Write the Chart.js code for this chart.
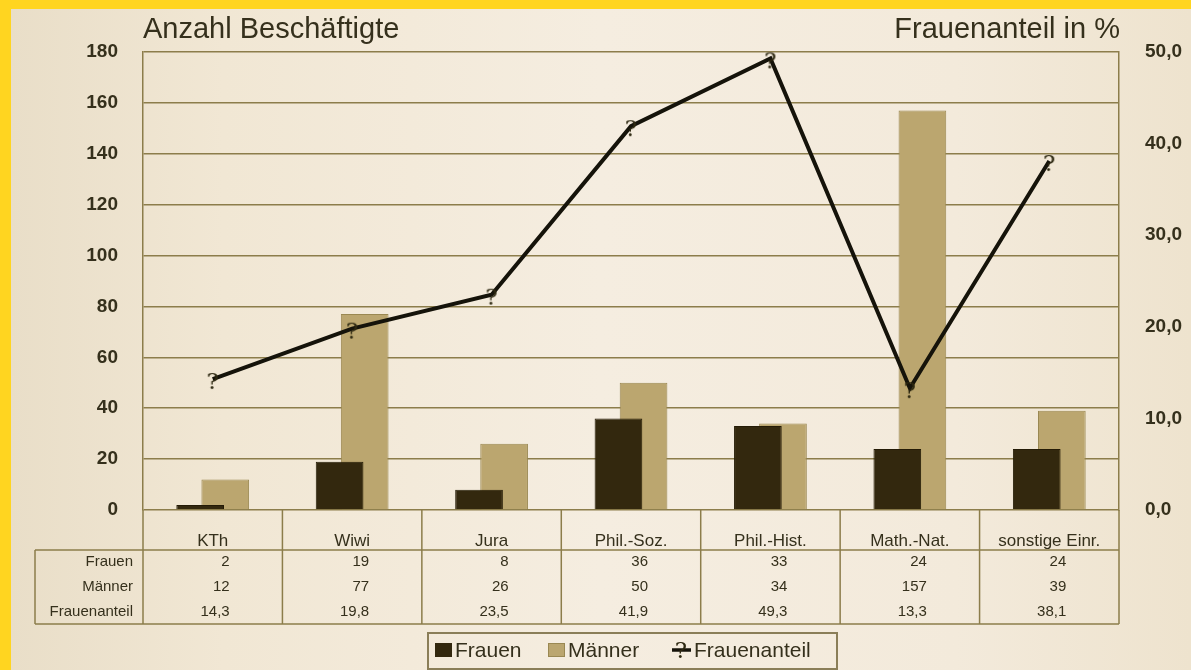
<!DOCTYPE html>
<html>
<head>
<meta charset="utf-8">
<script src="https://cdn.jsdelivr.net/npm/chart.js@4.4.1/dist/chart.umd.min.js"></script>
<style>
  html, body { margin: 0; padding: 0; width: 1191px; height: 670px; overflow: hidden; background: #ffd520; }
  #wrap { position: absolute; left: 11px; top: 9px; width: 1180px; height: 661px;
    background: linear-gradient(90deg, #e9dec8 0%, #f1e7d4 18%, #f5ede0 50%, #f3eadb 80%, #eee3ce 100%); }
  canvas { display: block; }
</style>
</head>
<body>
<div id="wrap"><canvas id="c" width="1180" height="661"></canvas></div>
<script>
// ---- data ----
const categories = ['KTh', 'Wiwi', 'Jura', 'Phil.-Soz.', 'Phil.-Hist.', 'Math.-Nat.', 'sonstige Einr.'];
const frauen = [2, 19, 8, 36, 33, 24, 24];
const maenner = [12, 77, 26, 50, 34, 157, 39];
const frauenanteil = [14.3, 19.8, 23.5, 41.9, 49.3, 13.3, 38.1];
const rowLabels = ['Frauen', 'Männer', 'Frauenanteil'];
const leftTitle = 'Anzahl Beschäftigte';
const rightTitle = 'Frauenanteil in %';

const FONT = '"Liberation Sans", Arial, sans-serif';
const TXT = '#35301c';
const GRID = '#8c7d4b';
const C_FRAUEN = '#33280e';
const C_MAENNER = '#bba66f';
const fmt = v => v.toFixed(1).replace('.', ',');

function makeMarker() {
  const c = document.createElement('canvas');
  c.width = 20; c.height = 48;
  const g = c.getContext('2d');
  g.fillStyle = '#2e2912';
  g.font = '23px "DejaVu Serif"';
  g.textAlign = 'center';
  g.textBaseline = 'top';
  g.fillText('?', 10, 17);
  return c;
}
const marker = makeMarker();

const tablePlugin = {
  id: 'tableAndTitles',
  afterDraw(chart) {
    const { ctx, chartArea } = chart;
    const x = chart.scales.x;
    const n = categories.length;
    const band = (x.right - x.left) / n;
    const top = chartArea.bottom;
    const catBottom = top + 40;
    const rowH = 24.7;
    const tableBottom = catBottom + rowH * 3;
    const tableLeft = 24;
    ctx.save();
    ctx.strokeStyle = GRID;
    ctx.lineWidth = 1.5;
    ctx.beginPath();
    ctx.moveTo(tableLeft, catBottom); ctx.lineTo(x.right, catBottom);
    ctx.moveTo(tableLeft, tableBottom); ctx.lineTo(x.right, tableBottom);
    ctx.moveTo(tableLeft, catBottom); ctx.lineTo(tableLeft, tableBottom);
    for (let k = 0; k <= n; k++) {
      const px = x.left + k * band;
      ctx.moveTo(px, top); ctx.lineTo(px, tableBottom);
    }
    ctx.stroke();
    // row labels and values
    ctx.fillStyle = TXT;
    ctx.font = '15px ' + FONT;
    ctx.textBaseline = 'middle';
    ctx.textAlign = 'right';
    const rows = [frauen.map(String), maenner.map(String), frauenanteil.map(fmt)];
    rows.forEach((vals, r) => {
      const y = catBottom + rowH * (r + 0.5);
      ctx.fillText(rowLabels[r], x.left - 10, y);
      vals.forEach((v, i) => {
        const cx = x.getPixelForValue(i);
        ctx.fillText(v, cx + 17, y);
      });
    });
    // titles
    ctx.font = '29px ' + FONT;
    ctx.textAlign = 'left';
    ctx.fillText(leftTitle, chartArea.left, 21);
    ctx.textAlign = 'right';
    ctx.fillText(rightTitle, chartArea.right + 1, 21);
    // legend
    const ly = 641;
    ctx.lineWidth = 2;
    ctx.strokeStyle = '#8a7e58';
    ctx.strokeRect(417, 624, 409, 36);
    const ds = chart.data.datasets;
    ctx.font = '21px ' + FONT;
    ctx.textAlign = 'left';
    ctx.fillStyle = ds[0].backgroundColor;
    ctx.fillRect(424, ly - 7, 17, 14);
    ctx.fillStyle = TXT;
    ctx.fillText(ds[0].label, 444, ly + 1);
    ctx.fillStyle = ds[1].backgroundColor;
    ctx.fillRect(537, ly - 7, 17, 14);
    ctx.strokeStyle = '#9a8852'; ctx.lineWidth = 1;
    ctx.strokeRect(537.5, ly - 6.5, 16, 13);
    ctx.fillStyle = TXT;
    ctx.fillText(ds[1].label, 557, ly + 1);
    ctx.strokeStyle = '#15130a'; ctx.lineWidth = 3.5;
    ctx.beginPath(); ctx.moveTo(661, ly); ctx.lineTo(680, ly); ctx.stroke();
    ctx.drawImage(marker, 660, ly - 24 - 2);
    ctx.fillStyle = TXT;
    ctx.fillText(ds[2].label, 683, ly + 1);
    ctx.restore();
  }
};

new Chart(document.getElementById('c'), {
  data: {
    labels: categories,
    datasets: [
      { type: 'bar', label: 'Frauen', data: frauen, yAxisID: 'y', order: 1,
        backgroundColor: C_FRAUEN, borderColor: '#241b06', borderWidth: 1,
        categoryPercentage: 0.36, barPercentage: 1.9 },
      { type: 'bar', label: 'Männer', data: maenner, yAxisID: 'y', order: 2,
        backgroundColor: C_MAENNER, borderColor: '#9a8852', borderWidth: 1,
        categoryPercentage: 0.36, barPercentage: 1.9 },
      { type: 'line', label: 'Frauenanteil', data: frauenanteil, yAxisID: 'y1', order: 0,
        borderColor: '#15130a', borderWidth: 4, tension: 0, fill: false,
        pointStyle: marker, pointRadius: 10, pointHoverRadius: 10 }
    ]
  },
  options: {
    responsive: false,
    animation: false,
    layout: { padding: { top: 43, left: 0, right: 0, bottom: 0 } },
    plugins: { legend: { display: false }, tooltip: { enabled: false }, title: { display: false } },
    scales: {
      x: {
        type: 'category',
        offset: true,
        grid: { display: false, drawTicks: false },
        border: { display: false },
        ticks: { color: TXT, font: { family: FONT, size: 17 }, padding: 21, maxRotation: 0, autoSkip: false },
        afterFit(s) { s.height = 160; }
      },
      y: {
        position: 'left', min: 0, max: 180,
        ticks: { stepSize: 20, color: TXT, font: { family: FONT, size: 19, weight: 'bold' }, padding: 25 },
        grid: { color: GRID, lineWidth: 1.5, drawTicks: false },
        border: { display: true, color: GRID, width: 1.5 },
        afterFit(s) { s.width = 132; }
      },
      y1: {
        position: 'right', min: 0, max: 50,
        ticks: { stepSize: 10, color: TXT, font: { family: FONT, size: 19, weight: 'bold' }, padding: 26, callback: v => fmt(v) },
        grid: { drawOnChartArea: false, drawTicks: false },
        border: { display: true, color: GRID, width: 1.5 },
        afterFit(s) { s.width = 72; }
      }
    }
  },
  plugins: [tablePlugin]
});
</script>
</body>
</html>
